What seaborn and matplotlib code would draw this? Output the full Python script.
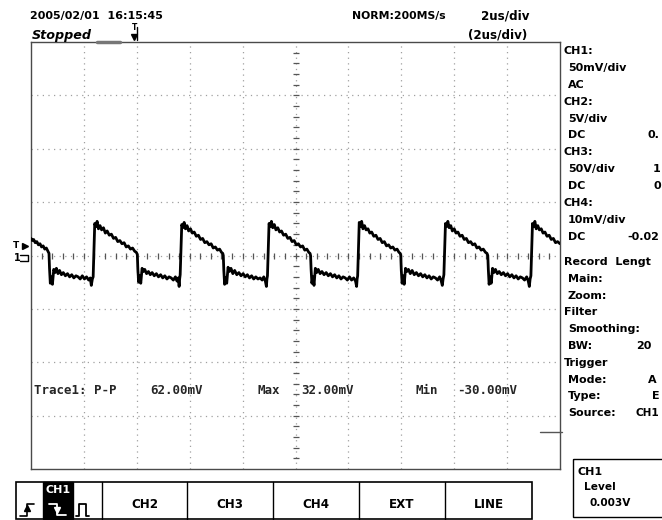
import numpy as np
import pandas as pd
import matplotlib
matplotlib.use("Agg")
import matplotlib.pyplot as plt
from matplotlib.patches import Rectangle
import seaborn as sns

# ---------------- data (time in us, CH1 in mV) ----------------
seg0 = [(0.00, 16), (0.05, 14), (0.10, 15), (0.16, 12), (0.22, 13), (0.28, 10), (0.34, 11),
        (0.40, 8), (0.46, 9), (0.52, 6), (0.58, 7), (0.64, 4), (0.68, 2)]
cycle1 = [(0.70, -12), (0.73, -26), (0.77, -20), (0.81, -27), (0.86, -13), (0.91, -16), (0.96, -12),
          (1.02, -17), (1.08, -14), (1.15, -18), (1.22, -16), (1.30, -19), (1.38, -17), (1.46, -20),
          (1.54, -18), (1.62, -21), (1.70, -19), (1.78, -20), (1.86, -22), (1.94, -19), (2.02, -22),
          (2.10, -20), (2.18, -23), (2.24, -21), (2.28, -28), (2.32, -22),
          (2.35, -20), (2.38, 5), (2.41, 30), (2.45, 27), (2.50, 32), (2.55, 25), (2.61, 28),
          (2.67, 24), (2.74, 26), (2.81, 21), (2.88, 23), (2.96, 19), (3.04, 20), (3.12, 16),
          (3.20, 17), (3.28, 13), (3.36, 14), (3.44, 11), (3.52, 12), (3.60, 8), (3.68, 9),
          (3.76, 6), (3.84, 7), (3.92, 4), (3.98, 3), (4.02, 1)]
cycle2 = [(4.04, -13), (4.07, -25), (4.11, -19), (4.15, -26), (4.20, -12), (4.25, -15), (4.30, -13),
          (4.37, -17), (4.44, -15), (4.51, -18), (4.58, -16), (4.66, -19), (4.74, -17), (4.82, -20),
          (4.90, -18), (4.98, -21), (5.06, -19), (5.14, -22), (5.22, -20), (5.30, -21), (5.38, -23),
          (5.46, -20), (5.52, -24), (5.57, -21), (5.60, -29), (5.62, -22),
          (5.64, -18), (5.67, 6), (5.70, 29), (5.74, 26), (5.79, 31), (5.84, 25), (5.90, 28),
          (5.96, 23), (6.03, 25), (6.10, 21), (6.17, 22), (6.25, 18), (6.33, 19), (6.41, 15),
          (6.49, 16), (6.57, 12), (6.65, 13), (6.73, 10), (6.81, 11), (6.89, 7), (6.97, 8),
          (7.05, 5), (7.13, 6), (7.20, 3), (7.25, 2), (7.27, 0)]
cycle3 = [(7.29, -14), (7.32, -27), (7.36, -21), (7.40, -26), (7.45, -11), (7.50, -15), (7.56, -12),
          (7.63, -17), (7.70, -14), (7.78, -18), (7.86, -16), (7.94, -19), (8.02, -17), (8.10, -20),
          (8.18, -18), (8.26, -21), (8.34, -19), (8.42, -22), (8.50, -20), (8.58, -22), (8.66, -21),
          (8.74, -23), (8.80, -20), (8.86, -24), (8.90, -29), (8.92, -22),
          (8.94, -19), (8.97, 4), (9.00, 30), (9.04, 27), (9.09, 32), (9.14, 26), (9.20, 29),
          (9.26, 24), (9.33, 26), (9.40, 22), (9.47, 23), (9.55, 19), (9.63, 20), (9.71, 16),
          (9.79, 17), (9.87, 13), (9.95, 14), (10.03, 10), (10.11, 11), (10.19, 8), (10.27, 9),
          (10.35, 5), (10.43, 6), (10.50, 3), (10.55, 2), (10.57, 0)]
cycle4 = [(10.59, -13), (10.62, -26), (10.66, -20), (10.70, -28), (10.75, -12), (10.80, -16),
          (10.86, -13), (10.93, -17), (11.00, -15), (11.08, -18), (11.16, -16), (11.24, -19),
          (11.32, -17), (11.40, -20), (11.48, -18), (11.56, -21), (11.64, -19), (11.72, -22),
          (11.80, -20), (11.88, -21), (11.96, -23), (12.04, -20), (12.12, -23), (12.20, -21),
          (12.27, -24), (12.31, -29), (12.33, -22),
          (12.35, -19), (12.38, 6), (12.41, 31), (12.45, 27), (12.50, 32), (12.55, 25), (12.61, 28),
          (12.67, 24), (12.74, 25), (12.81, 21), (12.88, 22), (12.96, 18), (13.04, 19), (13.12, 15),
          (13.20, 16), (13.28, 12), (13.36, 13), (13.44, 9), (13.52, 10), (13.60, 7), (13.68, 8),
          (13.76, 5), (13.84, 6), (13.91, 3), (13.96, 2), (13.98, 0)]
cycle5 = [(14.00, -14), (14.03, -26), (14.07, -19), (14.11, -27), (14.16, -12), (14.21, -15),
          (14.27, -13), (14.34, -17), (14.41, -14), (14.49, -18), (14.57, -16), (14.65, -19),
          (14.73, -17), (14.81, -20), (14.89, -18), (14.97, -21), (15.05, -19), (15.13, -22),
          (15.21, -20), (15.29, -21), (15.37, -23), (15.45, -20), (15.51, -24), (15.55, -28),
          (15.58, -22),
          (15.61, -18), (15.64, 5), (15.67, 30), (15.71, 27), (15.76, 32), (15.81, 26), (15.87, 28),
          (15.93, 23), (16.00, 25), (16.07, 21), (16.14, 22), (16.22, 18), (16.30, 19), (16.38, 15),
          (16.46, 16), (16.54, 12), (16.62, 13), (16.70, 10), (16.78, 11), (16.86, 7), (16.94, 8),
          (17.02, 5), (17.10, 6), (17.18, 3), (17.24, 2), (17.27, 0)]
cycle6 = [(17.29, -13), (17.32, -27), (17.36, -20), (17.40, -26), (17.45, -12), (17.50, -16),
          (17.56, -13), (17.63, -17), (17.70, -15), (17.78, -18), (17.86, -16), (17.94, -19),
          (18.02, -17), (18.10, -20), (18.18, -18), (18.26, -21), (18.34, -19), (18.42, -22),
          (18.50, -20), (18.58, -21), (18.66, -23), (18.74, -20), (18.80, -24), (18.84, -29),
          (18.87, -22),
          (18.90, -19), (18.93, 5), (18.96, 30), (19.00, 27), (19.05, 32), (19.10, 25), (19.16, 28),
          (19.22, 24), (19.29, 25), (19.36, 21), (19.43, 22), (19.51, 18), (19.59, 19), (19.67, 15),
          (19.75, 16), (19.83, 12), (19.91, 13), (20.00, 11)]

measure_labels = ["Trace1: P-P", "62.00mV", "Max", "32.00mV", "Min", "-30.00mV"]
button_labels = ["CH2", "CH3", "CH4", "EXT", "LINE"]
panel_lines = [
    ("CH1:", 0), ("50mV/div", 1), ("AC", 1), ("CH2:", 0), ("5V/div", 1), ("DC", 1),
    ("CH3:", 0), ("50V/div", 1), ("DC", 1), ("CH4:", 0), ("10mV/div", 1), ("DC", 1),
    ("Record  Lengt", 0), ("Main:", 1), ("Zoom:", 1), ("Filter", 0), ("Smoothing:", 1),
    ("BW:", 1), ("Trigger", 0), ("Mode:", 1), ("Type:", 1), ("Source:", 1)]
# values as far as they are visible at the right edge
panel_values = {5: (647, "0."), 7: (653, "1"), 8: (653, "0"), 11: (627, "-0.02"),
                17: (636, "20"), 19: (648, "A"), 20: (652, "E"), 21: (636, "CH1")}

# ---------------- figure ----------------
sns.set_theme(style="white")
plt.rcParams['font.family'] = ['DejaVu Sans']
W, H = 662, 520
fig = plt.figure(figsize=(W / 100, H / 100), dpi=100)
fig.patch.set_facecolor("white")

L, R, TOP, BOT = 31, 560, 42, 469
ax = fig.add_axes([L / W, 1 - BOT / H, (R - L) / W, (BOT - TOP) / H])
ax.set_xlim(0, 20)
ax.set_ylim(-200, 200)
ax.set_xticks([]); ax.set_yticks([])
for s in ax.spines.values():
    s.set_color("#4a4a4a"); s.set_linewidth(1.0)

dot = (0, (1, 3.5))
for i in range(1, 10):
    ax.axvline(2 * i, color="#a0a0a0", lw=0.9, ls=dot, zorder=1)
for j in range(-3, 4):
    ax.axhline(50 * j, color="#a0a0a0", lw=0.9, ls=dot, zorder=1)
ax.plot(np.arange(0.4, 20, 0.4), np.zeros(49), "|", ms=5, mew=0.9, color="#555555", zorder=2)
ax.plot(np.full(39, 10.0), np.arange(-190, 200, 10), "_", ms=5, mew=0.9, color="#555555", zorder=2)

pts = seg0 + cycle1 + cycle2 + cycle3 + cycle4 + cycle5 + cycle6
df = pd.DataFrame(pts, columns=["t_us", "ch1_mV"])
sns.lineplot(data=df, x="t_us", y="ch1_mV", sort=False, color="black", lw=2.0, ax=ax,
             zorder=3, legend=False)
ax.set_xlabel(""); ax.set_ylabel("")

# ---------------- overlay in pixel coordinates ----------------
ov = fig.add_axes([0, 0, 1, 1])
ov.set_xlim(0, W); ov.set_ylim(H, 0); ov.axis("off")

def txt(x, y, s, size=8.0, weight="bold", ha="left", color="black", **kw):
    ov.text(x, y, s, fontsize=size, fontweight=weight, ha=ha, va="center", color=color, **kw)

txt(30, 16, "2005/02/01  16:15:45", size=8.0)
txt(32, 35, "Stopped", size=9.2, style="italic")
txt(352, 16, "NORM:200MS/s", size=7.8)
txt(481, 16, "2us/div", size=8.6)
txt(468, 35, "(2us/div)", size=8.6)
# trigger position marker
txt(132, 28, "T", size=5.5)
ov.plot([137, 137], [27, 40], color="black", lw=1)
ov.plot([134], [37], marker="v", ms=4, color="black")
ov.plot([97, 120], [42, 42], color="#777777", lw=2.5)
# level markers on the left
txt(13, 246, "T", size=6.5)
ov.plot([25], [246], marker=">", ms=5, color="black")
txt(14, 258, "1", size=7)
ov.plot([20, 28, 28, 20], [255, 255, 261, 261], color="black", lw=1)

# right panel
ypos = []
for k, (s, ind) in enumerate(panel_lines):
    y = 51 + 16.9 * k if k < 12 else 262 + 16.8 * (k - 12)
    ypos.append(y)
    txt(564 + 4 * ind, y, s, size=8.0)
for k, (x, v) in panel_values.items():
    txt(x, ypos[k], v, size=8.0 if k != 21 else 7.6)
ov.plot([540, 562], [432, 432], color="#555555", lw=1)

# measurement row
mx = [34, 150, 257, 301, 416, 457]
for x, s in zip(mx, measure_labels):
    ov.text(x, 391, s, fontsize=9.0, family="DejaVu Sans Mono",
            fontweight="bold", va="center", ha="left")

# button bar
ov.add_patch(Rectangle((16, 482), 516, 37, fill=False, ec="black", lw=1.2))
divs = [102, 187, 273, 359, 445, 532]
for x in divs[:-1]:
    ov.plot([x, x], [482, 519], color="black", lw=1)
for k, s in enumerate(button_labels):
    txt((divs[k] + divs[k + 1]) / 2, 504, s, size=8.6, ha="center")
ov.add_patch(Rectangle((43, 482), 30, 37, color="black"))
txt(58, 490, "CH1", size=8, ha="center", color="white")
# edge icons
ov.plot([20, 27, 27, 34], [516, 516, 504, 504], color="black", lw=1.2)
ov.plot([27], [508], marker="^", ms=4, color="black")
ov.plot([49, 57, 57, 66], [504, 504, 515, 515], color="white", lw=1.3)
ov.plot([57], [510], marker="v", ms=4, color="white")
ov.plot([76, 79, 79, 86, 86, 89], [516, 516, 504, 504, 516, 516], color="black", lw=1.3)

# trigger level box
ov.add_patch(Rectangle((573, 459), 120, 58, fill=False, ec="black", lw=1))
txt(578, 472, "CH1", size=8.0)
txt(584, 487, "Level", size=7.6)
txt(590, 503, "0.003V", size=7.6)

fig.savefig("out.png", dpi=100, facecolor="white")
